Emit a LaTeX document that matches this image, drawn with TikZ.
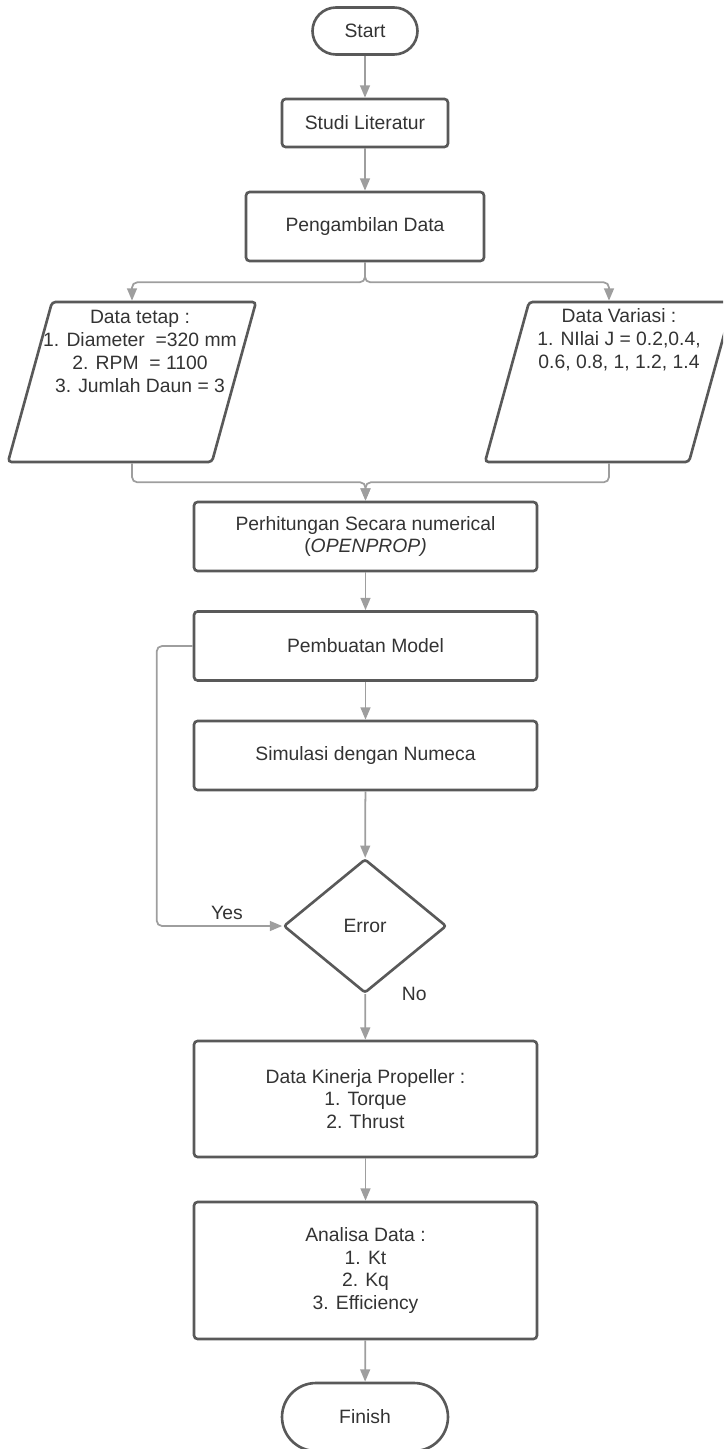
\documentclass[tikz,border=0pt]{standalone}
\usepackage{fontspec}
\setmainfont{Liberation Sans}
\usetikzlibrary{shapes.geometric, arrows.meta}

\definecolor{edgegray}{HTML}{595959}
\definecolor{linegray}{HTML}{9E9E9E}
\definecolor{textgray}{HTML}{333333}

\begin{document}
\begin{tikzpicture}[
        x=0.02cm, y=-0.02cm,
        block/.style={rectangle, draw=edgegray, line width=1.5pt, rounded corners=2pt, minimum width=6.86cm, minimum height=1.38cm, align=center, text=textgray, font=\fontsize{11}{13}\selectfont},
        terminal/.style={block, minimum width=3.32cm},
        dataio/.style={trapezium, trapezium left angle=74.6, trapezium right angle=105.4, trapezium stretches=true, draw=edgegray, line width=1.5pt, rounded corners=2pt, minimum width=4.96cm, minimum height=3.2cm, inner sep=2pt},
        datatext/.style={anchor=north, inner sep=0pt, align=center, text=textgray, font=\fontsize{11}{13}\selectfont},
        decision/.style={diamond, draw=edgegray, line width=1.5pt, rounded corners=1.5pt, minimum width=3.26cm, minimum height=2.68cm, inner sep=0pt, text=textgray, font=\fontsize{11}{13}\selectfont},
        lbl/.style={text=textgray, font=\fontsize{11}{13}\selectfont},
        arrow/.style={-{Triangle[length=7pt, width=5.6pt]}, draw=linegray, line width=1pt}
    ]
        \useasboundingbox (0,0) rectangle (723,1449);
        \clip (0,0) rectangle (723,1449);

        % Start
        \node[terminal, rounded corners=0.47cm, minimum width=2.1cm, minimum height=0.94cm] (start) at (365,31) {Start};

        % Literatur and data
        \node[block, minimum width=3.32cm, minimum height=0.96cm] (studi) at (365,123) {Studi Literatur};
        \node[block, minimum width=4.76cm] (ambil) at (365,226.5) {Pengambilan Data};

        % Input data
        \node[dataio] (tetap) at (132,382) {};
        \node[datatext] (tetaptxt) at (140,310) {Data tetap :\\1. Diameter\ \ =320 mm\\2. RPM\ \ = 1100\\3. Jumlah Daun = 3};
        \node[dataio] (variasi) at (609,382) {};
        \node[datatext] (variasitxt) at (619,308) {Data Variasi :\\1. NIlai J = 0.2,0.4,\\0.6, 0.8, 1, 1.2, 1.4};

        % Numerical and model
        \node[block] (calc) at (365.5,536.5) {Perhitungan Secara numerical\\(\textit{OPENPROP)}};
        \node[block] (model) at (365.5,646) {Pembuatan Model};
        \node[block] (simul) at (365.5,755.5) {Simulasi dengan Numeca};

        % Check
        \node[decision] (error) at (365,926) {Error};

        % Results
        \node[block, minimum height=2.32cm] (kinerja) at (365.5,1099) {Data Kinerja Propeller :\\1. Torque\\2. Thrust};
        \node[block, minimum height=2.74cm] (analisa) at (365.5,1270.5) {Analisa Data :\\1. Kt\\2. Kq\\3. Efficiency};

        % Finish
        \node[terminal, rounded corners=0.68cm, minimum height=1.36cm] (finish) at (365,1417) {Finish};

        \draw[arrow] (start) -- (studi);
        \draw[arrow] (studi) -- (ambil);
        \draw[arrow, rounded corners=3pt] (ambil.south) -- ++(0,20) -| (tetap.north);
        \draw[arrow, rounded corners=3pt] (ambil.south) -- ++(0,20) -| (variasi.north);
        \draw[arrow, rounded corners=3pt] (tetap.south) -- ++(0,19) -| (calc.north);
        \draw[arrow, rounded corners=3pt] (variasi.south) -- ++(0,19) -| (calc.north);
        \draw[arrow] (calc) -- (model);
        \draw[arrow] (model) -- (simul);
        \draw[arrow] (simul) -- (error);
        \draw[arrow, rounded corners=3pt] (model.west) -- ++(-36,0) |- node[lbl, pos=0.78, above] {Yes} (error.west);
        \draw[arrow] (error) -- node[lbl, at start, right=0.6cm] {No} (kinerja);
        \draw[arrow] (kinerja) -- (analisa);
        \draw[arrow] (analisa) -- (finish);
    \end{tikzpicture}
\end{document}
